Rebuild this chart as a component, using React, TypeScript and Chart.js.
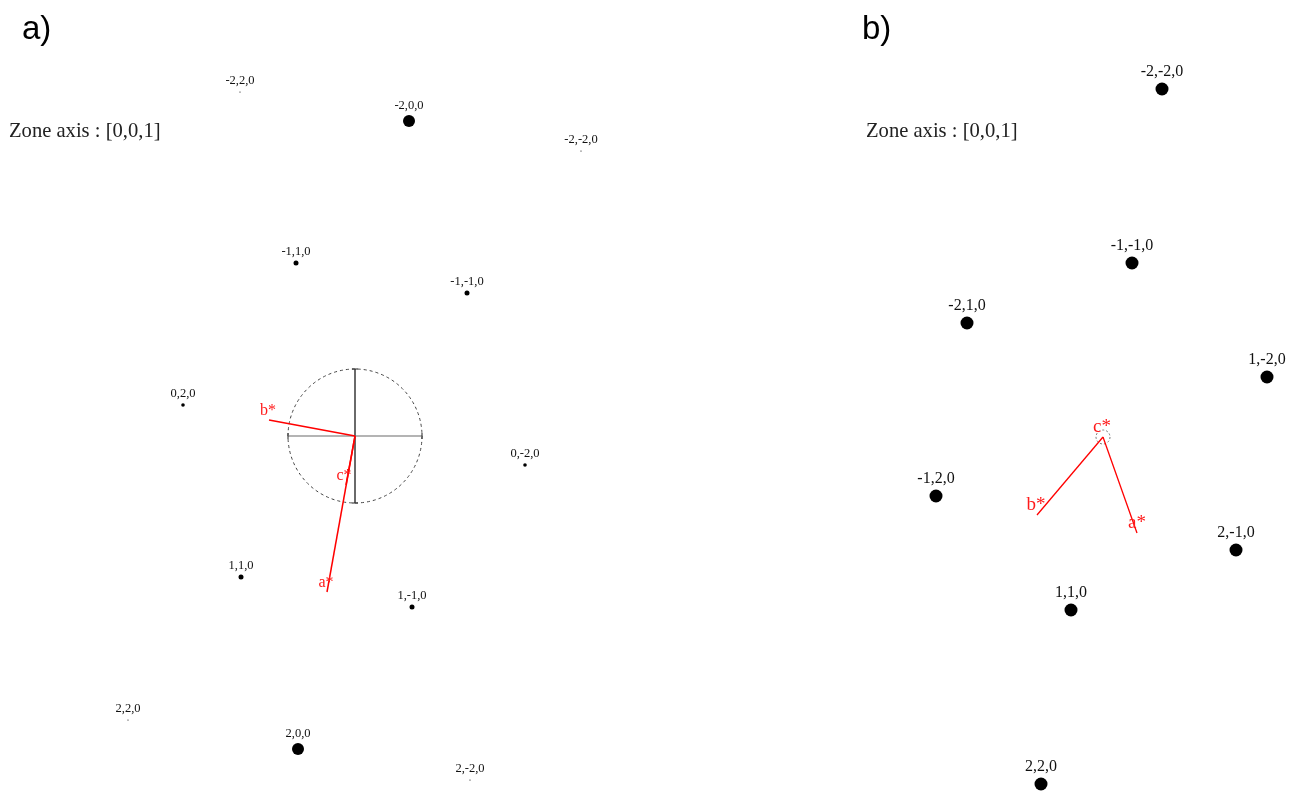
import React, { useEffect, useRef } from "react";
import { Chart, registerables } from "chart.js";

Chart.register(...registerables);

// ---------- Panel a) : reflections (offset from transmitted beam, y up) ----------
const aSpotLabels = ["-2,2,0", "-2,0,0", "-2,-2,0", "-1,1,0", "-1,-1,0", "0,2,0", "0,-2,0", "1,1,0", "1,-1,0", "2,2,0", "2,0,0", "2,-2,0"];
const aSpotX = [-115, 54, 226, -59, 112, -172, 170, -114, 57, -227, -57, 115];
const aSpotY = [344, 315, 285, 173, 143, 31, -29, -141, -171, -284, -313, -344];
const aSpotSize = [0.6, 6, 0.6, 2.5, 2.5, 1.8, 1.8, 2.5, 2.5, 0.6, 6, 0.6];

// reciprocal vectors a*, b*, c* (tip positions)
const aVecNames = ["a*", "b*", "c*"];
const aVecX = [-28, -86, -9];
const aVecY = [-156, 16, -49];

// ---------- Panel b) ----------
const bSpotLabels = ["-2,-2,0", "-1,-1,0", "-2,1,0", "1,-2,0", "-1,2,0", "2,-1,0", "1,1,0", "2,2,0"];
const bSpotX = [59, 29, -136, 164, -167, 133, -32, -62];
const bSpotY = [348, 174, 114, 60, -59, -113, -173, -347];
const bSpotSize = [6.5, 6.5, 6.5, 6.5, 6.5, 6.5, 6.5, 6.5];

const bVecNames = ["a*", "b*", "c*"];
const bVecX = [34, -66, 0];
const bVecY = [-96, -78, 0];

const zoneAxis = "Zone axis : [0,0,1]";

const SERIF = '"Liberation Serif", "Times New Roman", serif';
const SANS = '"Liberation Sans", Arial, sans-serif';

type PanelDef = {
  tag: string;
  width: number;
  height: number;
  xMin: number;
  xMax: number;
  yMin: number;
  yMax: number;
  spotLabels: string[];
  spotX: number[];
  spotY: number[];
  spotSize: number[];
  spotFont: number;
  spotGap: number;
  vecNames: string[];
  vecX: number[];
  vecY: number[];
  vecFont: number;
  vecGap: number;
  vecShift: number[];
  vecWidth: number;
  frame: boolean;
  frameRadius: number;
  tagX: number;
  zoneX: number;
};

const panels: PanelDef[] = [
  {
    tag: "a)",
    width: 645,
    height: 791,
    xMin: -355,
    xMax: 290,
    yMin: -355,
    yMax: 436,
    spotLabels: aSpotLabels,
    spotX: aSpotX,
    spotY: aSpotY,
    spotSize: aSpotSize,
    spotFont: 12.5,
    spotGap: 9,
    vecNames: aVecNames,
    vecX: aVecX,
    vecY: aVecY,
    vecFont: 16,
    vecGap: 9,
    vecShift: [-1, -1, -2],
    vecWidth: 1.5,
    frame: true,
    frameRadius: 67,
    tagX: 22,
    zoneX: 9,
  },
  {
    tag: "b)",
    width: 644,
    height: 791,
    xMin: -458,
    xMax: 186,
    yMin: -354,
    yMax: 437,
    spotLabels: bSpotLabels,
    spotX: bSpotX,
    spotY: bSpotY,
    spotSize: bSpotSize,
    spotFont: 16,
    spotGap: 10.5,
    vecNames: bVecNames,
    vecX: bVecX,
    vecY: bVecY,
    vecFont: 19,
    vecGap: 10,
    vecShift: [0, -1, -1],
    vecWidth: 1.3,
    frame: false,
    frameRadius: 7,
    tagX: 217,
    zoneX: 221,
  },
];

function makeOverlay(p: PanelDef) {
  return {
    id: "diffractionOverlay",
    beforeDatasetsDraw(chart: any) {
      const { ctx } = chart;
      const x = chart.scales.x;
      const y = chart.scales.y;
      const cx = x.getPixelForValue(0);
      const cy = y.getPixelForValue(0);
      const r = x.getPixelForValue(p.frameRadius) - cx;
      ctx.save();
      // dashed circle around the transmitted beam
      ctx.setLineDash(p.frame ? [3, 3] : [2, 2]);
      ctx.strokeStyle = p.frame ? "#444" : "#777";
      ctx.lineWidth = 1;
      ctx.beginPath();
      ctx.arc(cx, cy, r, 0, Math.PI * 2);
      ctx.stroke();
      ctx.setLineDash([]);
      if (p.frame) {
        // horizontal and vertical cross-hair with end ticks
        ctx.strokeStyle = "#b4b4b4";
        ctx.lineWidth = 2;
        ctx.beginPath();
        ctx.moveTo(cx - r, cy);
        ctx.lineTo(cx + r, cy);
        ctx.stroke();
        ctx.strokeStyle = "#6a6a6a";
        ctx.beginPath();
        ctx.moveTo(cx, cy - r);
        ctx.lineTo(cx, cy + r);
        ctx.stroke();
        ctx.strokeStyle = "#222";
        ctx.lineWidth = 1;
        ctx.beginPath();
        ctx.moveTo(cx - 3, cy - r);
        ctx.lineTo(cx + 3, cy - r);
        ctx.moveTo(cx - 3, cy + r);
        ctx.lineTo(cx + 3, cy + r);
        ctx.moveTo(cx - r, cy - 3);
        ctx.lineTo(cx - r, cy + 3);
        ctx.moveTo(cx + r, cy - 3);
        ctx.lineTo(cx + r, cy + 3);
        ctx.stroke();
      }
      ctx.restore();
    },
    afterDatasetsDraw(chart: any) {
      const { ctx } = chart;
      const x = chart.scales.x;
      const y = chart.scales.y;
      ctx.save();
      ctx.textAlign = "center";
      ctx.textBaseline = "middle";
      // reflection indices, placed just above each spot
      ctx.font = `${p.spotFont}px ${SERIF}`;
      ctx.fillStyle = "#111";
      p.spotLabels.forEach((t, i) => {
        const px = x.getPixelForValue(p.spotX[i]);
        const py = y.getPixelForValue(p.spotY[i]);
        const gap = Math.max(p.spotGap + 2, p.spotGap + p.spotSize[i]);
        ctx.fillText(t, px, py - gap);
      });
      // vector names
      ctx.font = `${p.vecFont}px ${SERIF}`;
      ctx.fillStyle = "#ff1a1a";
      p.vecNames.forEach((t, i) => {
        const px = x.getPixelForValue(p.vecX[i]);
        const py = y.getPixelForValue(p.vecY[i]);
        ctx.fillText(t, px + p.vecShift[i], py - p.vecGap);
      });
      // panel tag and zone axis
      ctx.textAlign = "left";
      ctx.textBaseline = "alphabetic";
      ctx.fillStyle = "#000";
      ctx.font = `33px ${SANS}`;
      ctx.fillText(p.tag, p.tagX, 39);
      ctx.fillStyle = "#222";
      ctx.font = `20.6px ${SERIF}`;
      ctx.fillText(zoneAxis, p.zoneX, 137);
      ctx.restore();
    },
  };
}

function PanelChart({ p, left }: { p: PanelDef; left: number }) {
  const ref = useRef<HTMLCanvasElement | null>(null);
  useEffect(() => {
    if (!ref.current) return;
    const spots = p.spotX.map((v, i) => ({ x: v, y: p.spotY[i] }));
    const vectorSets = p.vecNames.map((name, i) => ({
      label: name,
      data: [
        { x: 0, y: 0 },
        { x: p.vecX[i], y: p.vecY[i] },
      ],
      showLine: true,
      borderColor: "#ff0000",
      borderWidth: p.vecWidth,
      pointRadius: 0,
      fill: false,
      order: 2,
    }));
    const chart = new Chart(ref.current, {
      type: "scatter",
      data: {
        datasets: [
          ...vectorSets,
          {
            label: "reflections",
            data: spots,
            pointRadius: p.spotSize,
            pointBackgroundColor: "#000",
            pointBorderColor: "#000",
            pointBorderWidth: 0,
            order: 1,
          },
        ],
      },
      options: {
        animation: false,
        responsive: false,
        devicePixelRatio: 1,
        layout: { padding: 0, autoPadding: false },
        events: [],
        plugins: {
          legend: { display: false },
          tooltip: { enabled: false },
          title: { display: false },
        },
        scales: {
          x: { type: "linear", min: p.xMin, max: p.xMax, display: false },
          y: { type: "linear", min: p.yMin, max: p.yMax, display: false },
        },
      },
      plugins: [makeOverlay(p)],
    } as any);
    return () => chart.destroy();
  }, [p]);
  return (
    <canvas
      ref={ref}
      width={p.width}
      height={p.height}
      style={{ position: "absolute", left, top: 0, width: p.width, height: p.height }}
    />
  );
}

export default function App() {
  return (
    <div
      style={{
        position: "fixed",
        left: 0,
        top: 0,
        width: 1289,
        height: 791,
        background: "#fff",
        overflow: "hidden",
      }}
    >
      <PanelChart p={panels[0]} left={0} />
      <PanelChart p={panels[1]} left={645} />
    </div>
  );
}
